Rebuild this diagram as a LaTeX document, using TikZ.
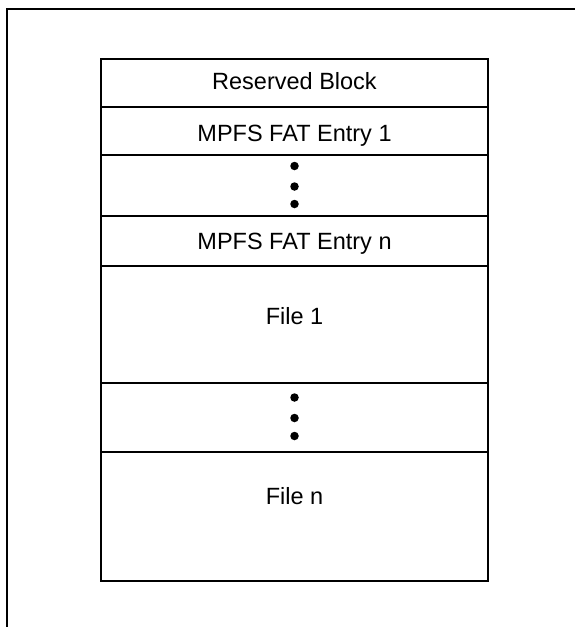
\documentclass[tikz,border=0pt]{standalone}
\usepackage{fontspec}
\setmainfont{Liberation Sans}
\usetikzlibrary{positioning}

\tikzset{
  frameline/.style={line width=2pt},
  rowline/.style={line width=1.8pt},
  rowtext/.style={anchor=base, inner sep=0pt, font=\fontsize{23.5}{28}\selectfont},
  dotmark/.style={fill=black, draw=none, circle, inner sep=0pt, minimum size=8.5pt},
}

\begin{document}
\begin{tikzpicture}[x=1pt, y=-1pt]
   \useasboundingbox (0,0) rectangle (575,627);

   % outer frame, open on the right and at the bottom
   \draw[frameline] (7,627) -- (7,9) -- (575,9);

   % the blocks
   \draw[rowline] (101,59) rectangle (488,581);
   \foreach \y in {107,155,216,266,383,452}
     \draw[rowline] (101,\y) -- (488,\y);

   \node[rowtext] (res)   at (294.5,89.5)  {Reserved Block};
   \node[rowtext] (fat1)  at (294.5,141.5) {MPFS FAT Entry 1};
   \node[rowtext] (fatn)  at (294.5,249)   {MPFS FAT Entry n};
   \node[rowtext] (file1) at (294.5,324)   {File 1};
   \node[rowtext] (filen) at (294.5,504.5) {File n};

   % ellipsis dots
   \foreach \y [count=\i] in {166,186.5,204}
     \node[dotmark] (fatdot\i) at (294.5,\y) {};
   \foreach \y [count=\i] in {397.5,418,436}
     \node[dotmark] (filedot\i) at (294.5,\y) {};
\end{tikzpicture}
\end{document}
